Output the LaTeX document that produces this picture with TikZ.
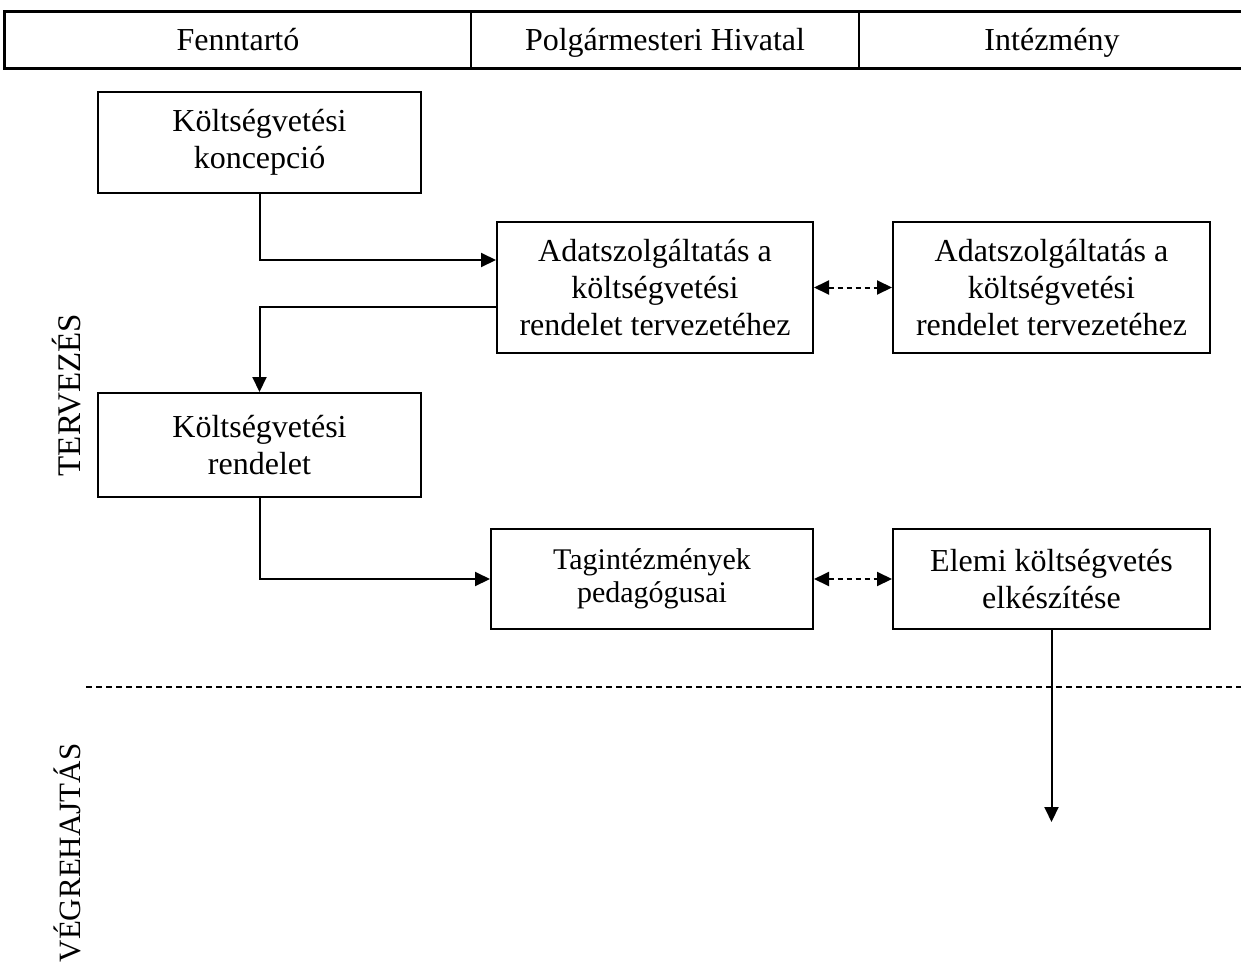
\documentclass[tikz,border=0pt]{standalone}
\usepackage{fontspec}
\setmainfont{Liberation Serif}
\usetikzlibrary{arrows.meta}
\begin{document}
\begin{tikzpicture}[x=1pt,y=-1pt,
  box/.style={draw,line width=2pt,inner sep=0pt,align=center,font=\fontsize{32}{37}\selectfont},
  smallbox/.style={box,font=\fontsize{30}{33}\selectfont},
  hcell/.style={draw,line width=1.5pt,inner sep=0pt,minimum height=56pt,text height=26pt,text depth=4pt,font=\fontsize{32}{37}\selectfont},
  side/.style={rotate=90,inner sep=0pt},
  arr/.style={line width=2pt,-{Triangle[length=15pt,width=14pt]}},
  darr/.style={line width=2pt,dash pattern=on 5pt off 4pt,{Triangle[length=15pt,width=14pt]}-{Triangle[length=15pt,width=14pt]}},
  divider/.style={line width=2pt,dash pattern=on 6pt off 4pt}]
\useasboundingbox (0,0) rectangle (1241,974);
% header
\node[hcell,minimum width=466pt] (h1) at (238,40) {Fenntartó};
\node[hcell,minimum width=388pt] (h2) at (665,40) {Polgármesteri Hivatal};
\node[hcell,minimum width=386pt] (h3) at (1052,40) {Intézmény};
\draw[line width=3pt] (h1.north west) rectangle (h3.south east);
% side labels
\node[side,font=\fontsize{33}{36}\selectfont] (tervezes) at (67,395) {TERVEZÉS};
\node[side,font=\fontsize{31}{36}\selectfont] (vegrehajtas) at (67,853) {VÉGREHAJTÁS};
% boxes
\node[box,minimum width=323pt,minimum height=101pt] (b1) at (259.5,142.5) {Költségvetési\\koncepció};
\node[box,minimum width=316pt,minimum height=131pt] (b2) at (655,287.5) {Adatszolgáltatás a\\költségvetési\\rendelet tervezetéhez};
\node[box,minimum width=317pt,minimum height=131pt] (b3) at (1051.5,287.5) {Adatszolgáltatás a\\költségvetési\\rendelet tervezetéhez};
\node[box,minimum width=323pt,minimum height=104pt] (b4) at (259.5,445) {Költségvetési\\rendelet};
\node[smallbox,minimum width=322pt,minimum height=100pt] (b5) at (652,579) {Tagintézmények\\pedagógusai};
\node[box,minimum width=317pt,minimum height=100pt] (b6) at (1051.5,579) {Elemi költségvetés\\elkészítése};
\coordinate (end) at (1051.5,822);
% divider
\draw[divider] (86,687) -- (1241,687);
% connectors
\draw[arr] (b1.south) |- ([yshift=27.5pt]b2.west);
\draw[arr] ([yshift=-19.5pt]b2.west) -| (b4.north);
\draw[arr] (b4.south) |- (b5.west);
\draw[darr] (b2.east) -- (b3.west);
\draw[darr] (b5.east) -- (b6.west);
\draw[arr] (b6.south) -- (end);
\end{tikzpicture}
\end{document}
